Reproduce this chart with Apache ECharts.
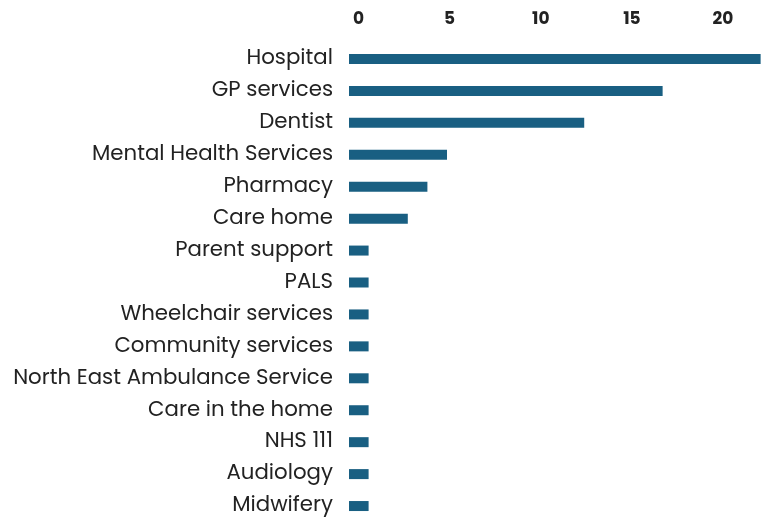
<!DOCTYPE html>
<html>
<head>
<meta charset="utf-8">
<script src="https://cdn.jsdelivr.net/npm/echarts@6/dist/echarts.min.js"></script>
<style>
html,body{margin:0;padding:0;background:#fff;}
#chart{width:766px;height:522px;}
</style>
</head>
<body>
<div id="chart"></div>
<script>
// services mentioned (counts)
var categories = ['Hospital','GP services','Dentist','Mental Health Services','Pharmacy','Care home',
    'Parent support','PALS','Wheelchair services','Community services','North East Ambulance Service',
    'Care in the home','NHS 111','Audiology','Midwifery'];
var counts = [21,16,12,5,4,3,1,1,1,1,1,1,1,1,1];
var tickValues = [0,5,10,15,20];

var myChart = echarts.init(document.getElementById('chart'));
var option = {
    animation:false,
    grid:{left:349,right:4,top:43,height:482},
    xAxis:[
        {
            // label axis (top)
            type:'value',position:'top',min:-0.52,max:22.14,
            axisLine:{show:false},axisTick:{show:false},splitLine:{show:false},
            axisLabel:{
                customValues:tickValues,margin:15,
                fontFamily:'Poppins, "Open Sans", sans-serif',fontWeight:'bold',fontSize:17,color:'#222'
            }
        },
        {
            type:'value',min:0,max:21.07,show:false
        }
    ],
    yAxis:{
        type:'category',inverse:true,data:categories,
        axisLine:{show:false},axisTick:{show:false},
        axisLabel:{margin:16,fontFamily:'Poppins, "Open Sans", sans-serif',fontSize:21.3,color:'#222'}
    },
    series:[
        {
            type:'bar',xAxisIndex:1,data:counts,barWidth:10,
            itemStyle:{color:'#195f82'}
        }
    ]
};
myChart.setOption(option);
</script>
</body>
</html>
